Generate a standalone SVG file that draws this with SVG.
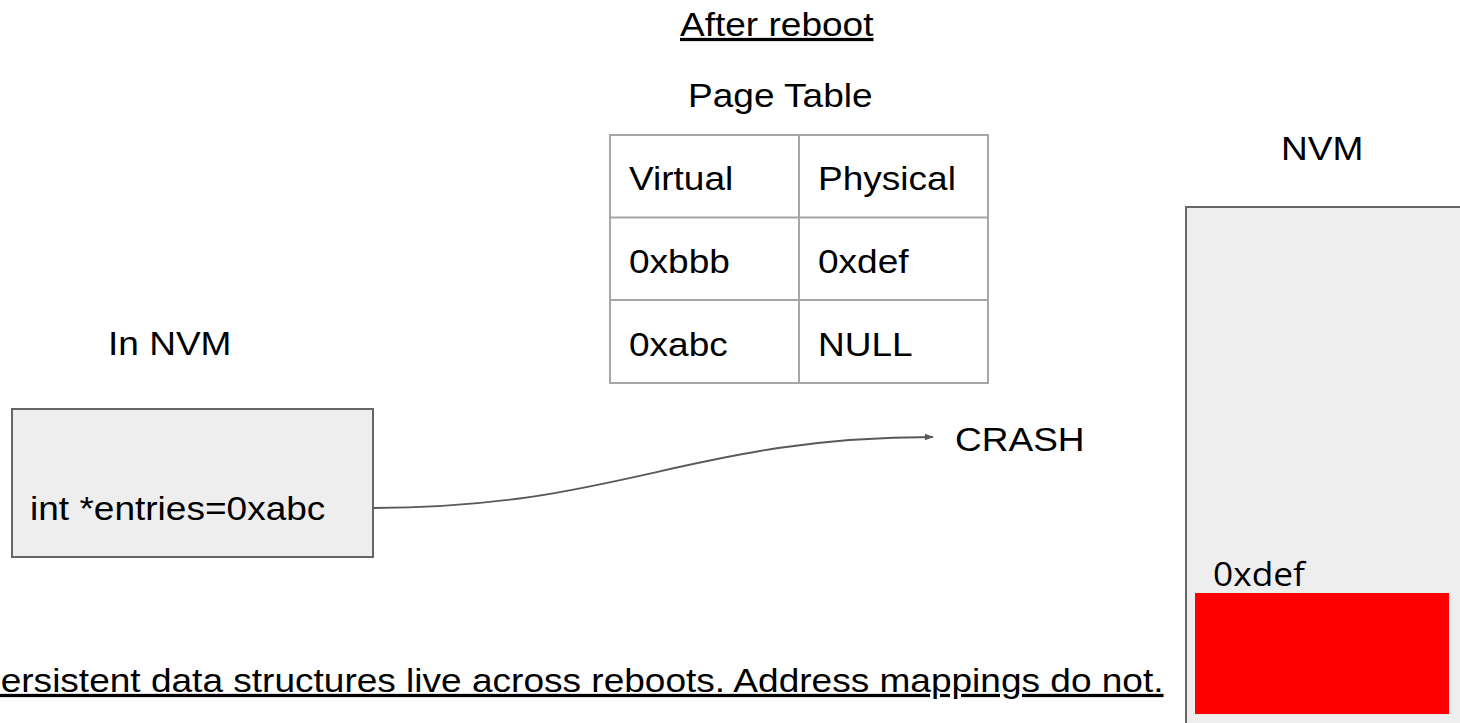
<svg xmlns="http://www.w3.org/2000/svg" width="1460" height="723" viewBox="0 0 1460 723">
  <style>
    text { font-family: "Liberation Sans", Arial, sans-serif; font-size: 32.5px; fill: #000; }
    .ul { text-decoration: underline; }
    .mem { font-family: "Open Sans", "Noto Sans", sans-serif; font-size: 33px; }
    .box { fill: #eeeeee; stroke: #666666; stroke-width: 2; }
    .grid { fill: none; stroke: #a6a6a6; stroke-width: 2; }
    .wire { fill: none; stroke: #595959; stroke-width: 1.8; }
  </style>
  <defs>
    <marker id="arrow" viewBox="0 0 10 10" refX="9" refY="5" markerWidth="11" markerHeight="9" orient="auto" markerUnits="userSpaceOnUse">
      <path d="M0,1.5 L10,5 L0,8.5 z" fill="#595959"/>
    </marker>
  </defs>

  <rect width="1460" height="723" fill="#ffffff"/>

  <g id="title">
    <text class="ul" transform="translate(680 36) scale(1.14 1)">After reboot</text>
  </g>

  <g id="page-table">
    <text transform="translate(688 107) scale(1.14 1)">Page Table</text>
    <rect class="grid" x="610" y="135" width="378" height="248"/>
    <line class="grid" x1="799" y1="135" x2="799" y2="383"/>
    <line class="grid" x1="610" y1="217.5" x2="988" y2="217.5"/>
    <line class="grid" x1="610" y1="300" x2="988" y2="300"/>
    <text transform="translate(629 190) scale(1.14 1)">Virtual</text>
    <text transform="translate(818 190) scale(1.14 1)">Physical</text>
    <text transform="translate(629 273) scale(1.14 1)">0xbbb</text>
    <text transform="translate(818 273) scale(1.14 1)">0xdef</text>
    <text transform="translate(629 356) scale(1.14 1)">0xabc</text>
    <text transform="translate(818 356) scale(1.14 1)">NULL</text>
  </g>

  <g id="nvm">
    <text transform="translate(1281 160) scale(1.14 1)">NVM</text>
    <rect class="box" x="1186" y="207" width="290" height="530"/>
    <text class="mem" transform="translate(1213 586) scale(1.07 1)">0xdef</text>
    <rect x="1195" y="593" width="254" height="121" fill="#ff0000"/>
  </g>

  <g id="pointer">
    <text transform="translate(108 355) scale(1.14 1)">In NVM</text>
    <rect class="box" x="12" y="409" width="361" height="148"/>
    <text transform="translate(30 520) scale(1.14 1)">int *entries=0xabc</text>
  </g>

  <g id="crash">
    <text transform="translate(955 451) scale(1.14 1)">CRASH</text>
  </g>

  <g id="connectors">
    <path class="wire" d="M373,508 C620,508 690,437 933,437" marker-end="url(#arrow)"/>
  </g>

  <g id="caption">
    <text class="ul" transform="translate(-24 692) scale(1.14 1)">Persistent data structures live across reboots. Address mappings do not.</text>
  </g>
</svg>
